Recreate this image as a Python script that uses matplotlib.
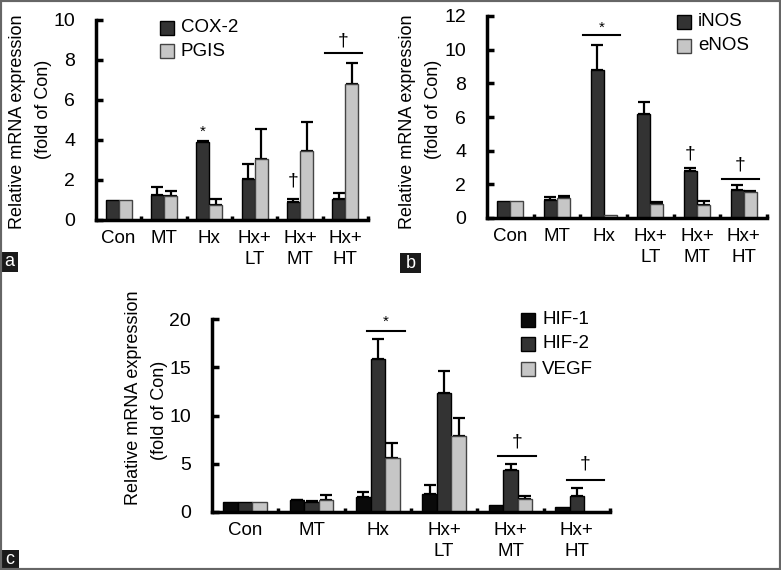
import numpy as np
import matplotlib
matplotlib.use("Agg")
import matplotlib.pyplot as plt
from matplotlib.patches import Rectangle

plt.rcParams['font.family'] = ['Liberation Sans', 'DejaVu Sans']
plt.rcParams['font.size'] = 13

groups = ["Con", "MT", "Hx", "Hx+\nLT", "Hx+\nMT", "Hx+\nHT"]

# panel a
cox2 = [1.0, 1.25, 3.88, 2.03, 0.92, 1.03]
cox2_err = [0.0, 0.38, 0.05, 0.77, 0.13, 0.34]
pgis = [1.0, 1.2, 0.75, 3.05, 3.47, 6.8]
pgis_err = [0.0, 0.27, 0.30, 1.50, 1.41, 1.07]

# panel b
inos = [1.0, 1.09, 8.8, 6.17, 2.77, 1.64]
inos_err = [0.0, 0.16, 1.5, 0.71, 0.19, 0.34]
enos = [1.0, 1.19, 0.2, 0.85, 0.79, 1.54]
enos_err = [0.0, 0.09, 0.0, 0.08, 0.24, 0.04]

# panel c
hif1 = [1.0, 1.2, 1.55, 1.84, 0.76, 0.5]
hif1_err = [0.0, 0.05, 0.53, 0.93, 0.0, 0.0]
hif2 = [1.0, 1.07, 15.9, 12.37, 4.37, 1.66]
hif2_err = [0.0, 0.08, 2.05, 2.19, 0.63, 0.84]
vegf = [1.0, 1.2, 5.55, 7.83, 1.32, 0.0]
vegf_err = [0.0, 0.53, 1.65, 1.87, 0.38, 0.0]

DARK = "#333333"
LIGHT = "#c6c6c6"
BLACK = "#0a0a0a"

W, H = 781, 570
fig = plt.figure(figsize=(W / 100, H / 100), dpi=100)


def px_axes(x0, x1, y0, y1):
    # pixel box -> figure fraction (y0 = zero line, y1 = top)
    return fig.add_axes([x0 / W, (H - y0) / H, (x1 - x0) / W, (y0 - y1) / H])


def draw_panel(ax, series, ymax, ystep, barw):
    n = len(series)
    x = np.arange(len(groups)) + 0.5
    for i, (vals, errs, col, ec) in enumerate(series):
        pos = x + (i - (n - 1) / 2) * barw
        ax.bar(pos, vals, width=barw, color=col, edgecolor=ec, linewidth=1.0, zorder=2)
        e = np.array(errs)
        m = e > 0
        ax.errorbar(pos[m], np.array(vals)[m], yerr=[np.zeros(m.sum()), e[m]],
                    fmt='none', ecolor='black', elinewidth=1.6, capsize=4, capthick=1.6, zorder=1)
    ax.set_xlim(0, 6)
    ax.set_ylim(0, ymax)
    ax.set_yticks(np.arange(0, ymax + 0.1, ystep))
    ax.set_xticks(np.arange(1, 7))
    ax.set_xticklabels([])
    ax.set_xticks(x, minor=True)
    ax.set_xticklabels(groups, minor=True, linespacing=1.35)
    ax.tick_params(axis='x', which='major', direction='in', length=3, width=2.5)
    ax.tick_params(axis='x', which='minor', length=0, pad=7, labelsize=13.5)
    ax.tick_params(axis='y', direction='in', length=5, width=2.5, pad=15, labelsize=14)
    for s in ['top', 'right']:
        ax.spines[s].set_visible(False)
    for s in ['left', 'bottom']:
        ax.spines[s].set_linewidth(2.5)
    ax.patch.set_alpha(0)
    return x


def mark(ax, xc, y, s, fs=13):
    ax.text(xc, y, s, ha='center', va='center', fontsize=fs, clip_on=False)


def bar_line(ax, x0, x1, y):
    ax.plot([x0, x1], [y, y], color='black', lw=1.5, clip_on=False)


# ---- a ----
axa = px_axes(96, 368, 220, 20)
xa = draw_panel(axa, [(cox2, cox2_err, DARK, 'black'), (pgis, pgis_err, LIGHT, '#444444')], 10, 2, 0.29)
mark(axa, xa[2] - 0.145, 4.4, "*", 11)
mark(axa, xa[4] - 0.145, 1.95, "†", 14)
bar_line(axa, 5.05, 5.87, 8.37)
mark(axa, 5.46, 8.95, "†", 14)

# ---- b ----
axb = px_axes(487, 767, 218, 16)
xb = draw_panel(axb, [(inos, inos_err, DARK, 'black'), (enos, enos_err, LIGHT, '#444444')], 12, 2, 0.28)
bar_line(axb, 2.06, 2.85, 10.9)
mark(axb, 2.45, 11.3, "*", 11)
mark(axb, xb[4] - 0.14, 3.8, "†", 14)
bar_line(axb, 5.03, 5.83, 2.33)
mark(axb, 5.43, 3.15, "†", 14)

# ---- c ----
axc = px_axes(212, 610, 512, 319)
xc = draw_panel(axc, [(hif1, hif1_err, BLACK, 'black'), (hif2, hif2_err, DARK, 'black'),
                      (vegf, vegf_err, LIGHT, '#444444')], 20, 5, 0.22)
bar_line(axc, 2.34, 2.91, 18.8)
mark(axc, 2.62, 19.75, "*", 11)
bar_line(axc, 4.31, 4.89, 5.8)
mark(axc, 4.6, 7.3, "†", 14)
bar_line(axc, 5.35, 5.91, 3.3)
mark(axc, 5.63, 5.0, "†", 14)

# legends (pixel positions of the swatches)
def legend(x, ys, labels, cols, ecs):
    for y, lab, c, ec in zip(ys, labels, cols, ecs):
        fig.patches.append(Rectangle((x / W, (H - y - 14) / H), 14 / W, 14 / H, transform=fig.transFigure,
                                     facecolor=c, edgecolor=ec, linewidth=1.0))
        fig.text((x + 21) / W, (H - y - 7) / H, lab, ha='left', va='center', fontsize=13.5)


legend(160, [21, 44], ["COX-2", "PGIS"], [DARK, LIGHT], ['black', '#444444'])
legend(677, [15, 39], ["iNOS", "eNOS"], [DARK, LIGHT], ['black', '#444444'])
legend(521, [313, 337, 362], ["HIF-1", "HIF-2", "VEGF"], [BLACK, DARK, LIGHT], ['black', 'black', '#444444'])

# y labels
for (xm, ym), (xf, yf) in [((18, 122), (43, 109)), ((408, 122), (433, 109)), ((133, 398), (160, 410))]:
    fig.text(xm / W, (H - ym) / H, "Relative mRNA expression", rotation=90, ha='center', va='center', fontsize=13)
    fig.text(xf / W, (H - yf) / H, "(fold of Con)", rotation=90, ha='center', va='center', fontsize=13)

# panel letters
for lab, x0, y0, w, h in [("a", 0, 252, 18, 20), ("b", 400, 253, 21, 20), ("c", 0, 550, 19, 20)]:
    fig.patches.append(Rectangle((x0 / W, (H - y0 - h) / H), w / W, h / H, transform=fig.transFigure,
                                 facecolor='#1a1a1a', edgecolor='none'))
    fig.text((x0 + w / 2) / W, (H - y0 - h / 2) / H, lab, color='white', ha='center', va='center', fontsize=13)

# outer frame
fig.patches.append(Rectangle((0, 0), 1, 1, transform=fig.transFigure, facecolor='none',
                             edgecolor='#666666', linewidth=3))

fig.savefig("out.png", dpi=100)
